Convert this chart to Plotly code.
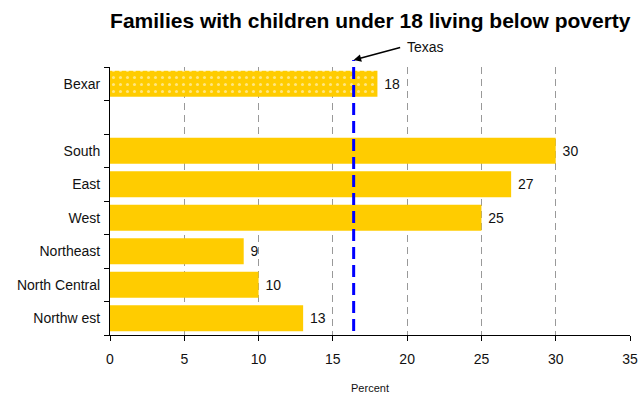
import plotly.graph_objects as go

# Share of families with children under 18 living below poverty (percent)
areas = ["Bexar", " ", "South", "East", "West", "Northeast", "North Central", "Northw est"]
percent = [18, None, 30, 27, 25, 9, 10, 13]
texas_rate = 16.4
x_ticks = [0, 5, 10, 15, 20, 25, 30, 35]

FONT = "Liberation Sans, Arial, sans-serif"
GOLD = "#FFCC00"

fig = go.Figure()

# Bexar county bar (dotted fill)
fig.add_trace(go.Bar(
    y=[areas[0]], x=[percent[0]], orientation="h",
    marker=dict(color=GOLD, line=dict(width=0),
                pattern=dict(shape=".", fillmode="overlay", fgcolor="white",
                             size=7, solidity=0.15)),
    text=[" " + str(percent[0])], textposition="outside",
    textfont=dict(size=14, color="#111", family=FONT),
    cliponaxis=False, hoverinfo="skip",
))

# Regional bars
fig.add_trace(go.Bar(
    y=areas[2:], x=percent[2:], orientation="h",
    marker=dict(color=GOLD, line=dict(width=0)),
    text=[" " + str(v) for v in percent[2:]], textposition="outside",
    textfont=dict(size=14, color="#111", family=FONT),
    cliponaxis=False, hoverinfo="skip",
))

# Texas reference line
fig.add_shape(type="line", xref="x", yref="paper",
              x0=texas_rate, x1=texas_rate, y0=0.015, y1=1.026,
              line=dict(color="#0000FF", width=3, dash="12px,6px"))

fig.add_annotation(x=texas_rate, y=1.026, xref="x", yref="paper",
                   ax=48, ay=-13, axref="pixel", ayref="pixel",
                   text="", showarrow=True, arrowhead=2, arrowsize=1,
                   arrowwidth=1.5, arrowcolor="black")
fig.add_annotation(x=0.568, y=1.075, xref="paper", yref="paper",
                   text="Texas", showarrow=False, xanchor="left", yanchor="middle",
                   font=dict(size=14, color="#111", family=FONT))

fig.update_layout(
    width=644, height=394,
    margin=dict(l=110, r=14, t=67, b=59),
    paper_bgcolor="white", plot_bgcolor="white",
    showlegend=False, bargap=0.23,
    title=dict(text="<b>Families with children under 18 living below poverty</b>",
               x=0.575, xanchor="center", y=0.948, yanchor="middle",
               font=dict(size=21, color="black", family=FONT)),
    font=dict(family=FONT, color="#111"),
)

fig.update_xaxes(
    range=[0, 35], tickvals=x_ticks, ticktext=[str(t) for t in x_ticks],
    showgrid=True, gridcolor="#999999", griddash="7px,5px", gridwidth=1,
    showline=True, linecolor="black", linewidth=1,
    ticks="outside", ticklen=5, tickcolor="black",
    tickfont=dict(size=14, family=FONT, color="#111"),
    ticklabelstandoff=6,
    title=dict(text="Percent", font=dict(size=11, family=FONT, color="#111"), standoff=22),
    zeroline=False, automargin=False,
)

fig.update_yaxes(
    type="category", categoryorder="array", categoryarray=areas[::-1],
    autorange=False, range=[-0.5, len(areas) - 0.5],
    tickson="boundaries", ticks="outside", ticklen=5, tickcolor="black",
    showline=True, linecolor="black", linewidth=1, showgrid=False,
    tickfont=dict(size=14, family=FONT, color="#111"),
    ticklabelstandoff=6, automargin=False,
)

fig.write_html("out.html")
